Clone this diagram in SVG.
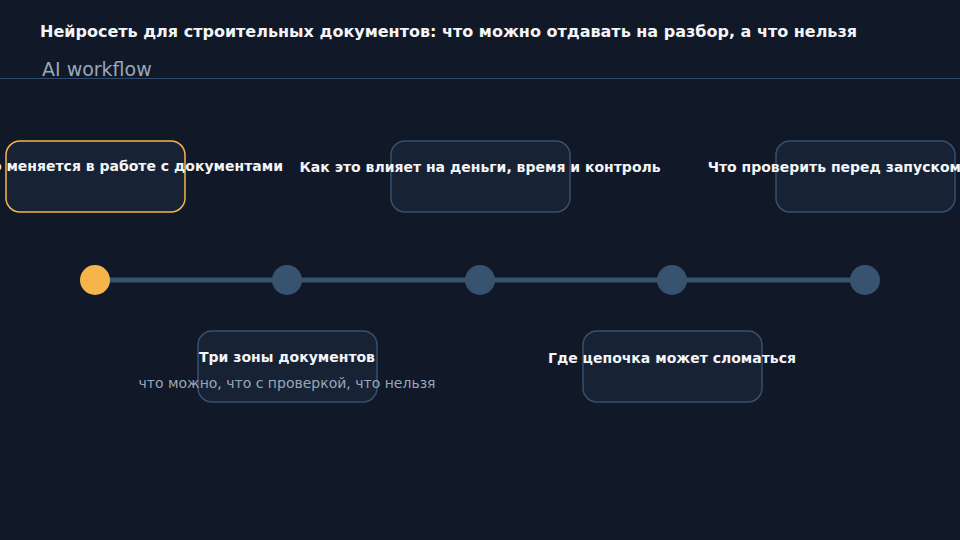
<svg xmlns="http://www.w3.org/2000/svg" width="960" height="540" viewBox="0 0 960 540">
<style>
.bg{fill:#111827}
.box{fill:#172234;stroke:#36506f;stroke-width:1.5}
.box.hl{stroke:#f5b54a}
.lbl{font-family:"DejaVu Sans",sans-serif;font-size:14px;font-weight:bold;fill:#f3f5f8;text-anchor:middle}
.sub{font-family:"DejaVu Sans",sans-serif;font-size:14px;fill:#9aa6b8;text-anchor:middle}
.dot{fill:#38536f}
.dot.hl{fill:#f5b54a}
</style>
<rect class="bg" x="0" y="0" width="960" height="540"/>
<text x="40" y="37" font-family="DejaVu Sans, sans-serif" font-size="16" font-weight="bold" fill="#f3f5f8">Нейросеть для строительных документов: что можно отдавать на разбор, а что нельзя</text>
<text x="42" y="76" font-family="DejaVu Sans, sans-serif" font-size="19" fill="#9aa6b8">AI workflow</text>
<line x1="0" y1="78.5" x2="960" y2="78.5" stroke="#2f4a6b" stroke-width="1"/>
<g id="connectors">
<line x1="95" y1="280" x2="865" y2="280" stroke="#38536f" stroke-width="5"/>
</g>
<g id="step1">
<rect class="box hl" x="6" y="141" width="179" height="71" rx="14"/>
<text class="lbl" x="283" y="171" style="text-anchor:end">Что меняется в работе с документами</text>
<circle class="dot hl" cx="95" cy="280" r="15"/>
</g>
<g id="step2">
<rect class="box" x="198" y="331" width="179" height="71" rx="14"/>
<text class="lbl" x="287" y="362">Три зоны документов</text>
<text class="sub" x="287" y="388">что можно, что с проверкой, что нельзя</text>
<circle class="dot" cx="287" cy="280" r="15"/>
</g>
<g id="step3">
<rect class="box" x="391" y="141" width="179" height="71" rx="14"/>
<text class="lbl" x="480" y="172">Как это влияет на деньги, время и контроль</text>
<circle class="dot" cx="480" cy="280" r="15"/>
</g>
<g id="step4">
<rect class="box" x="583" y="331" width="179" height="71" rx="14"/>
<text class="lbl" x="672" y="363">Где цепочка может сломаться</text>
<circle class="dot" cx="672" cy="280" r="15"/>
</g>
<g id="step5">
<rect class="box" x="776" y="141" width="179" height="71" rx="14"/>
<text class="lbl" x="961" y="172" style="text-anchor:end">Что проверить перед запуском</text>
<circle class="dot" cx="865" cy="280" r="15"/>
</g>
</svg>
